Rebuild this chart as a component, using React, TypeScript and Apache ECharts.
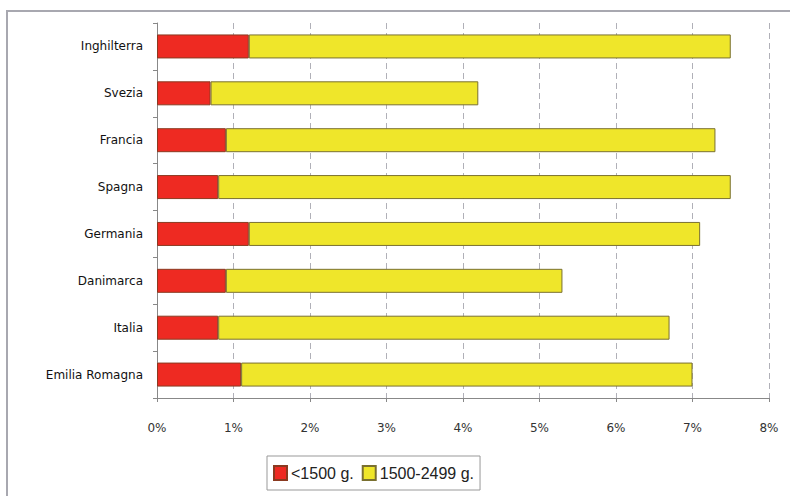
import React, { useEffect, useRef } from "react";
import * as echarts from "echarts";

const categories = ["Emilia Romagna", "Italia", "Danimarca", "Germania", "Spagna", "Francia", "Svezia", "Inghilterra"];
const under1500 = [1.1, 0.8, 0.9, 1.2, 0.8, 0.9, 0.7, 1.2];
const from1500to2499 = [5.9, 5.9, 4.4, 5.9, 6.7, 6.4, 3.5, 6.3];
const seriesNames = ["<1500 g.", "1500-2499 g."];

export default function App() {
  const ref = useRef<HTMLDivElement>(null);
  useEffect(() => {
    const chart = echarts.init(ref.current!, null, { renderer: "svg" });
    const font = "'DejaVu Sans', sans-serif";
    chart.setOption({
      animation: false,
      backgroundColor: "#ffffff",
      graphic: [
        {
          type: "rect",
          shape: { x: 7, y: 11, width: 800, height: 500 },
          style: { fill: "none", stroke: "#a8a8b0", lineWidth: 2 },
          silent: true,
        },
      ],
      grid: { left: 157, right: 21, top: 23, bottom: 98, containLabel: false },
      legend: {
        left: 267,
        top: 456,
        orient: "horizontal",
        padding: [9, 6, 9, 6],
        itemGap: 8,
        itemWidth: 13,
        itemHeight: 14,
        borderColor: "#999999",
        borderWidth: 1,
        borderRadius: 0,
        icon: "rect",
        textStyle: { fontFamily: "'Liberation Sans', Arial, sans-serif", fontSize: 16, color: "#222", padding: [0, 0, 0, -1] },
        data: seriesNames,
      },
      xAxis: {
        type: "value",
        min: 0,
        max: 8,
        interval: 1,
        axisLine: { show: true, lineStyle: { color: "#888888" } },
        axisTick: { show: true, length: 4, lineStyle: { color: "#888888" } },
        axisLabel: {
          formatter: (v: number) => v + "%",
          fontFamily: font,
          fontSize: 12,
          color: "#333",
          margin: 24,
        },
        splitLine: { show: true, lineStyle: { color: "#b0b0b8", type: [6, 4], width: 1 } },
      },
      yAxis: {
        type: "category",
        data: categories,
        axisLine: { show: true, lineStyle: { color: "#888888" } },
        axisTick: { show: true, length: 4, inside: false, lineStyle: { color: "#888888" } },
        axisLabel: { fontFamily: font, fontSize: 12, color: "#111", margin: 14 },
        splitLine: { show: false },
      },
      series: [
        {
          name: seriesNames[0],
          type: "bar",
          stack: "tot",
          data: under1500,
          barWidth: 24,
          itemStyle: { color: "#ee2a22", borderColor: "#8a3a20", borderWidth: 1 },
        },
        {
          name: seriesNames[1],
          type: "bar",
          stack: "tot",
          data: from1500to2499,
          barWidth: 24,
          itemStyle: { color: "#efe62a", borderColor: "#7a7030", borderWidth: 1 },
        },
      ],
    });
    return () => chart.dispose();
  }, []);
  return <div ref={ref} style={{ width: 790, height: 496, position: "absolute", left: 0, top: 0 }} />;
}
